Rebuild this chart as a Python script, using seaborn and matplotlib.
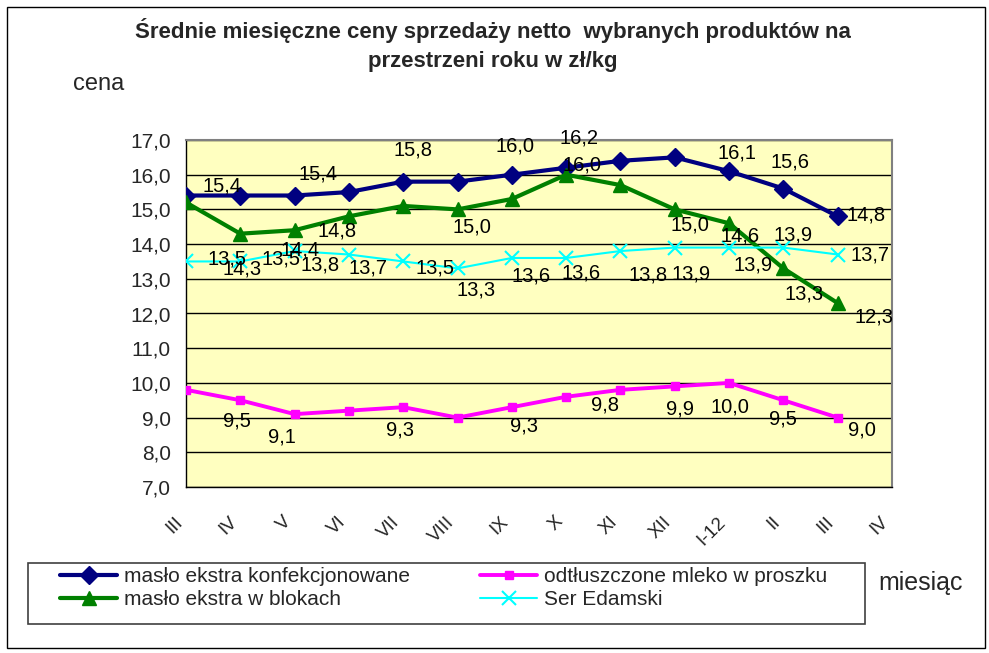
import matplotlib
matplotlib.use("Agg")
import matplotlib.pyplot as plt
import seaborn as sns
from matplotlib.patches import Rectangle

# Dane
months = ["III", "IV", "V", "VI", "VII", "VIII", "IX", "X", "XI", "XII", "I-12", "II", "III", "IV"]
maslo_konf = [15.4, 15.4, 15.4, 15.5, 15.8, 15.8, 16.0, 16.2, 16.4, 16.5, 16.1, 15.6, 14.8]
maslo_blok = [15.2, 14.3, 14.4, 14.8, 15.1, 15.0, 15.3, 16.0, 15.7, 15.0, 14.6, 13.3, 12.3]
mleko = [9.8, 9.5, 9.1, 9.2, 9.3, 9.0, 9.3, 9.6, 9.8, 9.9, 10.0, 9.5, 9.0]
ser = [13.5, 13.5, 13.8, 13.7, 13.5, 13.3, 13.6, 13.6, 13.8, 13.9, 13.9, 13.9, 13.7]

names = ["masło ekstra konfekcjonowane", "masło ekstra w blokach",
         "odtłuszczone mleko w proszku", "Ser Edamski"]

# polozenie etykiet danych (przesuniecie w pikselach: w prawo, w dol)
lab_konf = {0: (36, -10), 2: (23, -22), 4: (10, -32), 6: (3, -29), 7: (13, -30),
            10: (8, -18), 11: (7, -27), 12: (28, -1)}
lab_blok = {1: (2, 35), 2: (5, 20), 3: (-12, 15), 5: (14, 18), 7: (16, -10),
            9: (15, 16), 10: (11, 13), 11: (21, 26), 12: (36, 14)}
lab_mleko = {1: (-3, 21), 2: (-13, 23), 4: (-3, 23), 6: (12, 19), 8: (-15, 15),
             9: (5, 23), 10: (1, 24), 11: (0, 19), 12: (24, 12)}
lab_ser = {0: (41, -2), 1: (41, -2), 2: (25, 14), 3: (19, 13), 4: (32, 7), 5: (19, 22),
           6: (19, 18), 7: (15, 15), 8: (28, 24), 9: (16, 26), 10: (24, 17),
           11: (10, -13), 12: (32, 0)}

sns.set_style("white")
plt.rcParams["font.family"] = ["Liberation Sans", "DejaVu Sans"]

W, H = 989, 653
fig = plt.figure(figsize=(W / 100, H / 100), dpi=100)
fig.patches.append(Rectangle((7 / W, 5 / H), 978 / W, 641 / H, transform=fig.transFigure,
                             fill=False, edgecolor="black", linewidth=1))

ax = fig.add_axes([186 / W, 1 - 487 / H, 706 / W, 347 / H])
ax.set_facecolor("#FFFFC0")

x = list(range(len(maslo_konf)))
styles = [
    (maslo_konf, "#000080", "D", 9, 3.0, 1, lab_konf),
    (maslo_blok, "#008000", "^", 10, 3.0, 1, lab_blok),
    (mleko, "#FF00FF", "s", 6, 2.8, 1, lab_mleko),
    (ser, "#00FFFF", "x", 10, 1.5, 1.5, lab_ser),
]

for (vals, col, mk, ms, lw, mew, labs), name in zip(styles, names):
    sns.lineplot(x=x, y=vals, ax=ax, color=col, marker=mk, markersize=ms, linewidth=lw,
                 markeredgecolor=col, markeredgewidth=mew, label=name, zorder=3)
    for i, (dx, dy) in labs.items():
        ax.annotate(f"{vals[i]:.1f}".replace(".", ","), (x[i], vals[i]),
                    xytext=(dx, -dy), textcoords="offset pixels",
                    ha="center", va="center", fontsize=14.5, color="black", zorder=4)

ax.set_xlim(0, 13)
ax.set_ylim(7, 17)
ax.set_yticks(range(7, 18))
ax.set_yticklabels([f"{v:.1f}".replace(".", ",") for v in range(7, 18)], fontsize=15)
ax.set_xticks(range(len(months)))
ax.set_xticklabels(months, rotation=45, ha="right", va="top", fontsize=13.5)
ax.tick_params(axis="both", length=5, width=1, direction="out", color="black")
ax.tick_params(axis="x", pad=14)
ax.tick_params(axis="y", pad=6)
ax.set_xlabel("")
ax.set_ylabel("")
ax.yaxis.grid(True, color="black", linewidth=1)
ax.xaxis.grid(False)
ax.set_axisbelow(True)
for side in ["top", "right"]:
    ax.spines[side].set_color("#808080")
    ax.spines[side].set_linewidth(1.5)
for side in ["left", "bottom"]:
    ax.spines[side].set_color("black")
    ax.spines[side].set_linewidth(1)

# legenda: ramka + dwie kolumny
handles, labels = ax.get_legend_handles_labels()
ax.get_legend().remove()
fig.patches.append(Rectangle((28 / W, 1 - 624 / H), 837 / W, 61 / H, transform=fig.transFigure,
                             fill=True, facecolor="white", edgecolor="#404040", linewidth=1.2,
                             zorder=1))
leg_opts = dict(loc="upper left", frameon=False, fontsize=15, handlelength=2.75,
                handletextpad=0.3, borderpad=0, labelspacing=0.2, borderaxespad=0)
leg1 = fig.legend(handles[:2], labels[:2], bbox_to_anchor=(60 / W, 1 - 567 / H), **leg_opts)
fig.legend(handles[2:], labels[2:], bbox_to_anchor=(480 / W, 1 - 567 / H), **leg_opts)

fig.text(493 / W, 1 - 45 / H,
         "Średnie miesięczne ceny sprzedaży netto  wybranych produktów na\nprzestrzeni roku w zł/kg",
         ha="center", va="center", fontsize=16, fontweight="bold", linespacing=1.45)
fig.text(73 / W, 1 - 84 / H, "cena", ha="left", va="center", fontsize=17)
fig.text(878 / W, 1 - 583 / H, "miesiąc", ha="left", va="center", fontsize=18)

fig.savefig("out.png", dpi=100)
